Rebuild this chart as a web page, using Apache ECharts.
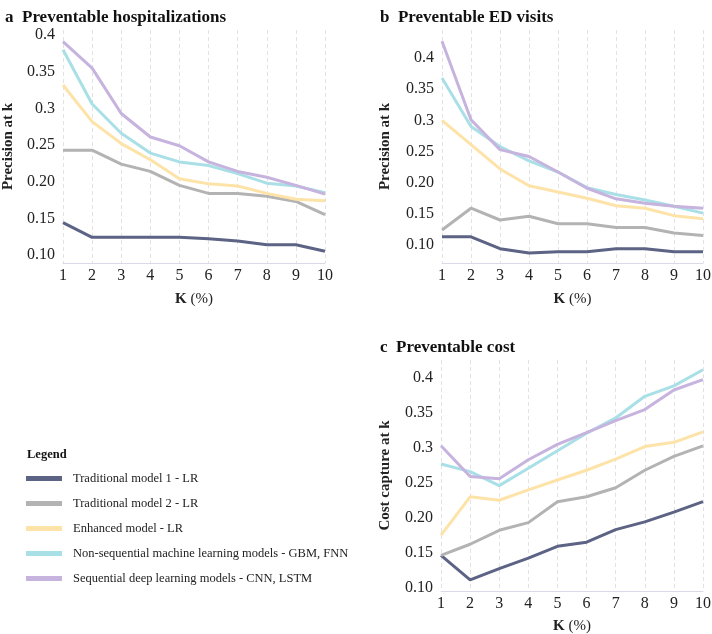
<!DOCTYPE html>
<html>
<head>
<meta charset="utf-8">
<script src="https://cdn.jsdelivr.net/npm/echarts@6/dist/echarts.min.js"></script>
<style>
html,body{margin:0;padding:0;background:#fff;}
#chart{width:712px;height:634px;}
</style>
</head>
<body>
<div id="chart"></div>
<script>
// K (%) on the x axis
var kValues = [1,2,3,4,5,6,7,8,9,10]
var modelNames = [
    'Traditional model 1 - LR',
    'Traditional model 2 - LR',
    'Enhanced model - LR',
    'Non-sequential machine learning models - GBM, FNN',
    'Sequential deep learning models - CNN, LSTM'
]
var colors = ['#5c6384','#b3b3b3','#fde3a8','#a9dfe6','#c6b3de']

// a  Preventable hospitalizations
var hospTrad1 = [0.144,0.124,0.124,0.124,0.124,0.122,0.119,0.114,0.114,0.105]
var hospTrad2 = [0.243,0.243,0.224,0.214,0.195,0.184,0.184,0.180,0.173,0.155]
var hospEnh   = [0.332,0.282,0.252,0.230,0.204,0.197,0.194,0.184,0.176,0.174]
var hospNonSeq= [0.380,0.306,0.266,0.239,0.227,0.222,0.211,0.198,0.194,0.185]
var hospSeq   = [0.391,0.355,0.293,0.261,0.249,0.227,0.214,0.206,0.195,0.183]

// b  Preventable ED visits
var edTrad1 = [0.113,0.113,0.094,0.087,0.089,0.089,0.094,0.094,0.089,0.089]
var edTrad2 = [0.124,0.159,0.140,0.146,0.134,0.134,0.128,0.128,0.119,0.115]
var edEnh   = [0.300,0.261,0.222,0.195,0.185,0.175,0.163,0.159,0.147,0.142]
var edNonSeq= [0.368,0.290,0.258,0.235,0.217,0.192,0.181,0.172,0.162,0.151]
var edSeq   = [0.427,0.301,0.253,0.242,0.217,0.191,0.174,0.167,0.162,0.159]

// c  Preventable cost
var costTrad1 = [0.146,0.111,0.127,0.142,0.159,0.165,0.183,0.194,0.208,0.223]
var costTrad2 = [0.146,0.162,0.182,0.193,0.223,0.230,0.243,0.268,0.288,0.303]
var costEnh   = [0.175,0.230,0.225,0.240,0.254,0.268,0.284,0.302,0.308,0.323]
var costNonSeq= [0.277,0.266,0.246,0.271,0.296,0.321,0.343,0.374,0.389,0.412]
var costSeq   = [0.303,0.259,0.256,0.283,0.305,0.322,0.339,0.355,0.383,0.398]

// y tick labels (same for every panel)
var yTickValues = [0.10,0.15,0.20,0.25,0.3,0.35,0.4]
var yTickLabels = ['0.10','0.15','0.20','0.25','0.3','0.35','0.4']

var serif = '"Liberation Serif", "DejaVu Serif", serif'

function xAxisOpt(gridIndex, gap){
    return {
        type:'value', gridIndex:gridIndex, min:1, max:10, interval:1,
        name:'{b|K} (%)', nameLocation:'middle', nameGap:gap,
        nameTextStyle:{fontFamily:serif, fontSize:15, color:'#222',
            rich:{b:{fontFamily:serif, fontSize:15, fontWeight:'bold', color:'#222'}}},
        axisLine:{show:true, lineStyle:{color:'#dcd8e6', width:1}},
        axisTick:{show:false},
        axisLabel:{fontFamily:serif, fontSize:16, color:'#222', margin:5},
        splitLine:{show:true, lineStyle:{color:'#e2e2e2', type:[4,3], width:1}}
    }
}

function yAxisOpt(gridIndex, name, min, max, gap){
    return {
        type:'value', gridIndex:gridIndex, min:min, max:max,
        name:name, nameLocation:'middle', nameGap:gap,
        nameTextStyle:{fontFamily:serif, fontSize:15, fontWeight:'bold', color:'#222'},
        axisLine:{show:false}, axisTick:{show:false}, splitLine:{show:false},
        axisLabel:{
            fontFamily:serif, fontSize:16, color:'#222', margin:8,
            customValues:yTickValues,
            formatter:function(v){
                for(var i=0;i<yTickValues.length;i++){
                    if(Math.abs(yTickValues[i]-v)<1e-6) return yTickLabels[i]
                }
                return ''
            }
        }
    }
}

function lines(gridIndex, arrs){
    return arrs.map(function(arr, i){
        return {
            name:modelNames[i], type:'line',
            xAxisIndex:gridIndex, yAxisIndex:gridIndex,
            data:arr.map(function(v, j){ return [kValues[j], v] }),
            symbol:'none', lineStyle:{width:3, color:colors[i]},
            itemStyle:{color:colors[i]}, z:2+i
        }
    })
}

var chart = echarts.init(document.getElementById('chart'))
var option = {
    animation:false,
    backgroundColor:'#fff',
    title:[
        {text:'a  Preventable hospitalizations', left:0, top:4,
            textStyle:{fontFamily:serif, fontSize:17, fontWeight:'bold', color:'#111'}},
        {text:'b  Preventable ED visits', left:375, top:4,
            textStyle:{fontFamily:serif, fontSize:17, fontWeight:'bold', color:'#111'}},
        {text:'c  Preventable cost', left:375, top:334,
            textStyle:{fontFamily:serif, fontSize:17, fontWeight:'bold', color:'#111'}},
        {text:'Legend', left:22, top:443,
            textStyle:{fontFamily:serif, fontSize:12.5, fontWeight:'bold', color:'#111'}}
    ],
    legend:{
        orient:'vertical', left:21, top:466,
        data:modelNames, icon:'rect', itemWidth:36, itemHeight:5, itemGap:10,
        textStyle:{fontFamily:serif, fontSize:12.5, color:'#222', padding:[0,0,0,6], lineHeight:15},
        selectedMode:false
    },
    grid:[
        {left:63, right:387, top:30, bottom:371, outerBoundsMode:'none'},
        {left:442, right:9, top:30, bottom:371, outerBoundsMode:'none'},
        {left:441, right:9, top:360, bottom:43, outerBoundsMode:'none'}
    ],
    xAxis:[xAxisOpt(0, 29), xAxisOpt(1, 29), xAxisOpt(2, 28)],
    yAxis:[
        yAxisOpt(0, 'Precision at k', 0.089, 0.407, 47),
        yAxisOpt(1, 'Precision at k', 0.071, 0.445, 49),
        yAxisOpt(2, 'Cost capture at k', 0.095, 0.426, 48)
    ],
    series:[].concat(
        lines(0, [hospTrad1, hospTrad2, hospEnh, hospNonSeq, hospSeq]),
        lines(1, [edTrad1, edTrad2, edEnh, edNonSeq, edSeq]),
        lines(2, [costTrad1, costTrad2, costEnh, costNonSeq, costSeq])
    )
}
chart.setOption(option)
</script>
</body>
</html>
